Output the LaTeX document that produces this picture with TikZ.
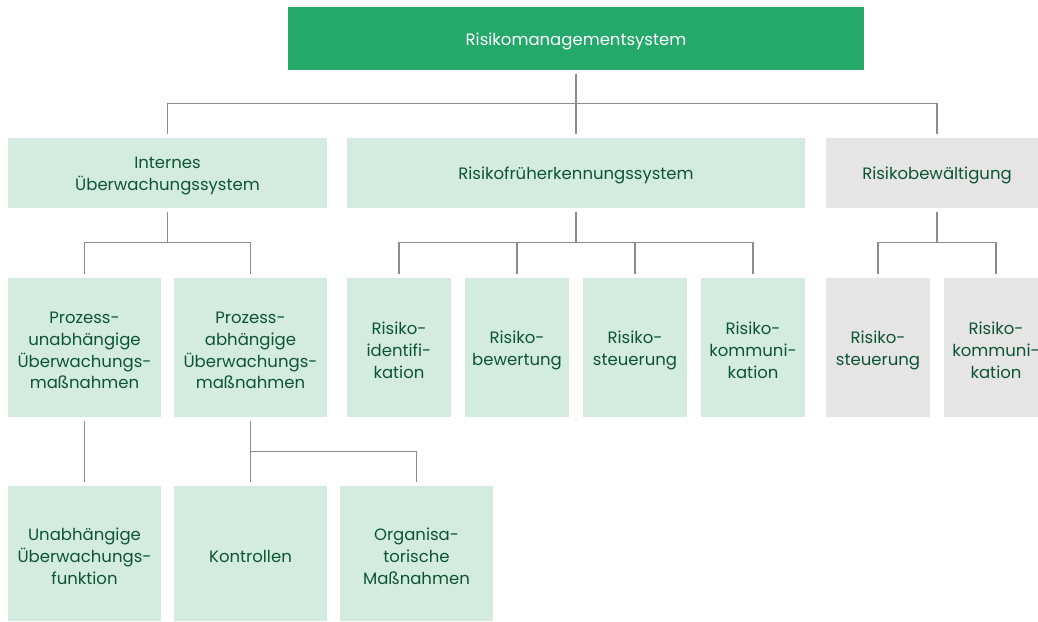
\documentclass[tikz,border=0pt]{standalone}
\usepackage{fontspec}
\setmainfont{Poppins}
\definecolor{rmsgreen}{RGB}{36,169,107}
\definecolor{palegreen}{RGB}{211,236,223}
\definecolor{palegray}{RGB}{229,229,229}
\definecolor{textgreen}{RGB}{14,84,52}
\definecolor{linkgray}{RGB}{140,140,140}
\newcommand\boxtop{\rule{0pt}{18pt}}
\tikzset{box/.style={rectangle,inner sep=0pt,align=center,text=textgreen,
    font=\fontsize{16.5}{21.7}\selectfont},
  greenbox/.style={box,fill=palegreen},
  graybox/.style={box,fill=palegray},
  link/.style={draw=linkgray,line width=1.2pt,shorten <=3.5pt,shorten >=4pt}}
\begin{document}
\begin{tikzpicture}[x=1pt,y=-1pt]
  \path[use as bounding box] (0,0) rectangle (1038,621);
  \node[box,fill=rmsgreen,text=white,minimum width=576pt,minimum height=63pt] (rms) at (576,38.5) {\boxtop Risikomanagementsystem};
  \node[greenbox,minimum width=319pt,minimum height=70pt] (ius) at (167.5,173) {\boxtop Internes\\Überwachungssystem};
  \node[greenbox,minimum width=458pt,minimum height=70pt] (rfs) at (576,173) {\boxtop Risikofrüherkennungssystem};
  \node[graybox,minimum width=222pt,minimum height=70pt] (rbw) at (937,173) {\boxtop Risikobewältigung};
  \node[greenbox,minimum width=153pt,minimum height=139pt] (pum) at (84.5,347.5) {\boxtop Prozess-\\unabhängige\\Überwachungs-\\maßnahmen};
  \node[greenbox,minimum width=153pt,minimum height=139pt] (pam) at (250.5,347.5) {\boxtop Prozess-\\abhängige\\Überwachungs-\\maßnahmen};
  \node[greenbox,minimum width=104pt,minimum height=139pt] (rid) at (399,347.5) {\boxtop Risiko-\\identifi-\\kation};
  \node[greenbox,minimum width=104pt,minimum height=139pt] (rbe) at (517,347.5) {\boxtop Risiko-\\bewertung};
  \node[greenbox,minimum width=104pt,minimum height=139pt] (rst) at (635,347.5) {\boxtop Risiko-\\steuerung};
  \node[greenbox,minimum width=104pt,minimum height=139pt] (rko) at (753,347.5) {\boxtop Risiko-\\kommuni-\\kation};
  \node[graybox,minimum width=104pt,minimum height=139pt] (bst) at (878,347.5) {\boxtop Risiko-\\steuerung};
  \node[graybox,minimum width=104pt,minimum height=139pt] (bko) at (996,347.5) {\boxtop Risiko-\\kommuni-\\kation};
  \node[greenbox,minimum width=153pt,minimum height=135pt] (uef) at (84.5,553.5) {\boxtop Unabhängige\\Überwachungs-\\funktion};
  \node[greenbox,minimum width=153pt,minimum height=135pt] (kon) at (250.5,553.5) {\boxtop Kontrollen};
  \node[greenbox,minimum width=153pt,minimum height=135pt] (org) at (416.5,553.5) {\boxtop Organisa-\\torische\\Maßnahmen};
  % tree connectors
  \foreach \to in {ius,rfs,rbw} \draw[link] (rms.south) -- ++(0,33.5) -| (\to.north);
  \foreach \to in {pum,pam} \draw[link] (ius.south) -- ++(0,34) -| (\to.north);
  \foreach \to in {rid,rbe,rst,rko} \draw[link] (rfs.south) -- ++(0,34) -| (\to.north);
  \foreach \to in {bst,bko} \draw[link] (rbw.south) -- ++(0,34) -| (\to.north);
  \draw[link] (pum.south) -- (uef.north);
  \foreach \to in {kon,org} \draw[link] (pam.south) -- ++(0,34) -| (\to.north);
\end{tikzpicture}
\end{document}
